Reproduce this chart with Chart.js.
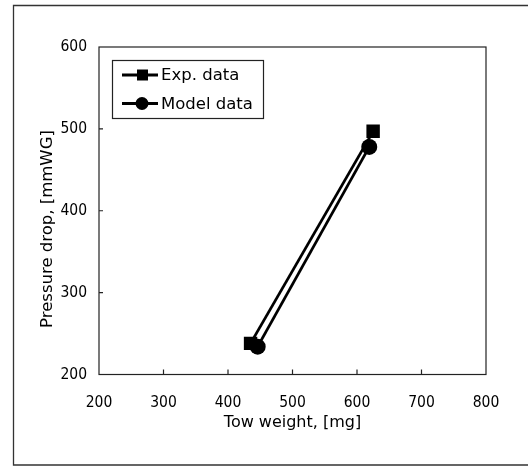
<!DOCTYPE html>
<html>
<head>
<meta charset="utf-8">
<script src="https://cdn.jsdelivr.net/npm/chart.js@4.4.1/dist/chart.umd.min.js"></script>
<style>
  html, body { margin: 0; padding: 0; background: #fff; }
  canvas { display: block; }
</style>
</head>
<body>
<canvas id="chart" width="528" height="466"></canvas>
<script>
// tow weight vs pressure drop
const seriesNames = ["Exp. data", "Model data"];
const expWeight = [435, 625];
const expDrop = [238, 497];
const modelWeight = [446, 619];
const modelDrop = [234, 478];
const xTicks = [200, 300, 400, 500, 600, 700, 800];
const yTicks = [200, 300, 400, 500, 600];

const toPoints = (xs, ys) => xs.map((x, i) => ({ x: x, y: ys[i] }));

// outer frame, plot box, inner tick marks
const framePlugin = {
  id: "frame",
  afterDraw(chart) {
    const ctx = chart.ctx;
    const a = chart.chartArea;
    const sx = chart.scales.x, sy = chart.scales.y;
    ctx.save();
    ctx.strokeStyle = "#333";
    ctx.lineWidth = 1.3;
    ctx.beginPath();
    ctx.moveTo(528, 5.5);
    ctx.lineTo(13.5, 5.5);
    ctx.lineTo(13.5, 465);
    ctx.lineTo(528, 465);
    ctx.stroke();

    ctx.strokeStyle = "#222";
    ctx.lineWidth = 1.2;
    ctx.strokeRect(a.left, a.top, a.right - a.left, a.bottom - a.top);

    ctx.beginPath();
    sx.ticks.forEach(t => {
      const px = sx.getPixelForValue(t.value);
      if (px <= a.left + 1 || px >= a.right - 1) return;
      ctx.moveTo(px, a.bottom);
      ctx.lineTo(px, a.bottom - 5);
    });
    sy.ticks.forEach(t => {
      const py = sy.getPixelForValue(t.value);
      if (py <= a.top + 1 || py >= a.bottom - 1) return;
      ctx.moveTo(a.left, py);
      ctx.lineTo(a.left + 4, py);
    });
    ctx.stroke();

    // axis titles
    ctx.fillStyle = "#000";
    ctx.font = "16px 'DejaVu Sans'";
    ctx.textAlign = "center";
    ctx.textBaseline = "middle";
    ctx.fillText("Tow weight, [mg]", (a.left + a.right) / 2, 423);
    ctx.translate(48, 229);
    ctx.rotate(-Math.PI / 2);
    ctx.font = "16.5px 'DejaVu Sans'";
    ctx.fillText("Pressure drop, [mmWG]", 0, 0);
    ctx.restore();
  }
};

// boxed legend inside the plot
const legendPlugin = {
  id: "boxLegend",
  afterDraw(chart) {
    const ctx = chart.ctx;
    const box = { x: 112.5, y: 60.5, w: 151, h: 58 };
    ctx.save();
    ctx.fillStyle = "#fff";
    ctx.fillRect(box.x, box.y, box.w, box.h);
    ctx.strokeStyle = "#222";
    ctx.lineWidth = 1.2;
    ctx.strokeRect(box.x, box.y, box.w, box.h);
    chart.data.datasets.forEach((ds, i) => {
      const cy = 75 + i * 28.5;
      ctx.strokeStyle = ds.borderColor;
      ctx.lineWidth = 3;
      ctx.beginPath();
      ctx.moveTo(122, cy);
      ctx.lineTo(158, cy);
      ctx.stroke();
      ctx.fillStyle = ds.pointBackgroundColor;
      if (ds.pointStyle === "rect") {
        ctx.fillRect(137, cy - 5.5, 11, 11);
      } else {
        ctx.beginPath();
        ctx.arc(142, cy, 6.5, 0, Math.PI * 2);
        ctx.fill();
      }
      ctx.fillStyle = "#000";
      ctx.font = "16.5px 'DejaVu Sans'";
      ctx.textAlign = "left";
      ctx.textBaseline = "middle";
      ctx.fillText(ds.label, 161, cy + 1);
    });
    ctx.restore();
  }
};

new Chart(document.getElementById("chart"), {
  type: "scatter",
  data: {
    datasets: [
      {
        label: seriesNames[0],
        data: toPoints(expWeight, expDrop),
        showLine: true,
        borderColor: "#000",
        borderWidth: 2.8,
        pointStyle: "rect",
        pointRadius: 9.5,
        pointBackgroundColor: "#000",
        pointBorderColor: "#000",
        pointBorderWidth: 0
      },
      {
        label: seriesNames[1],
        data: toPoints(modelWeight, modelDrop),
        showLine: true,
        borderColor: "#000",
        borderWidth: 2.8,
        pointStyle: "circle",
        pointRadius: 8,
        pointBackgroundColor: "#000",
        pointBorderColor: "#000",
        pointBorderWidth: 0
      }
    ]
  },
  options: {
    responsive: false,
    animation: false,
    layout: { padding: { left: 0, top: 47, right: 42, bottom: 0 } },
    plugins: {
      legend: { display: false },
      tooltip: { enabled: false }
    },
    scales: {
      x: {
        type: "linear",
        min: xTicks[0],
        max: xTicks[xTicks.length - 1],
        afterBuildTicks: (scale) => { scale.ticks = xTicks.map(v => ({ value: v })); },
        afterFit: (scale) => { scale.height = 91.5; },
        grid: { display: false, drawTicks: false },
        border: { display: false },
        ticks: {
          padding: 19,
          color: "#000",
          font: { family: "'DejaVu Sans Condensed', 'DejaVu Sans'", size: 15.5 }
        }
      },
      y: {
        type: "linear",
        min: yTicks[0],
        max: yTicks[yTicks.length - 1],
        afterBuildTicks: (scale) => { scale.ticks = yTicks.map(v => ({ value: v })); },
        afterFit: (scale) => { scale.width = 99; },
        grid: { display: false, drawTicks: false },
        border: { display: false },
        ticks: {
          padding: 12,
          color: "#000",
          font: { family: "'DejaVu Sans Condensed', 'DejaVu Sans'", size: 15.5 }
        }
      }
    }
  },
  plugins: [framePlugin, legendPlugin]
});
</script>
</body>
</html>
